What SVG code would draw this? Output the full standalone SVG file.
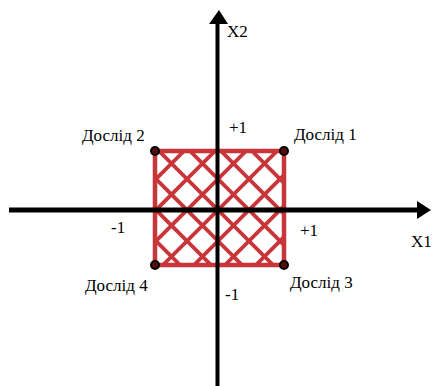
<svg xmlns="http://www.w3.org/2000/svg" width="433" height="386" viewBox="0 0 433 386">
<style>
.lbl{font-family:"Liberation Serif","Times New Roman",serif;font-size:17px;fill:#000}
.hatch{stroke:#c8363a;stroke-width:3.8;fill:none}
.axis{stroke:#000;fill:none}
.pt{fill:#5a0c0c;stroke:#000;stroke-width:2}
</style>
<defs>
<clipPath id="sq"><rect x="155" y="151" width="129" height="114"/></clipPath>
</defs>
<rect width="433" height="386" fill="#fff"/>
<g id="region">
<g clip-path="url(#sq)" class="hatch">
<line x1="204" y1="100" x2="-16" y2="320"/>
<line x1="235" y1="100" x2="15" y2="320"/>
<line x1="266" y1="100" x2="46" y2="320"/>
<line x1="297" y1="100" x2="77" y2="320"/>
<line x1="328" y1="100" x2="108" y2="320"/>
<line x1="359" y1="100" x2="139" y2="320"/>
<line x1="390" y1="100" x2="170" y2="320"/>
<line x1="421" y1="100" x2="201" y2="320"/>
<line x1="452" y1="100" x2="232" y2="320"/>
<line x1="-16" y1="100" x2="204" y2="320"/>
<line x1="15" y1="100" x2="235" y2="320"/>
<line x1="46" y1="100" x2="266" y2="320"/>
<line x1="77" y1="100" x2="297" y2="320"/>
<line x1="108" y1="100" x2="328" y2="320"/>
<line x1="139" y1="100" x2="359" y2="320"/>
<line x1="170" y1="100" x2="390" y2="320"/>
<line x1="201" y1="100" x2="421" y2="320"/>
<line x1="232" y1="100" x2="452" y2="320"/>
</g>
<rect x="155" y="151" width="129" height="114" fill="none" stroke="#c8363a" stroke-width="4.5"/>
</g>
<g id="axes">
<line class="axis" x1="9" y1="210" x2="420" y2="210" stroke-width="5"/>
<polygon points="417,201 431,210 417,219" fill="#000"/>
<line class="axis" x1="217.5" y1="22" x2="217.5" y2="386" stroke-width="4"/>
<polygon points="209,24 219,10 228,24" fill="#000"/>
<text class="lbl" x="227" y="37">X2</text>
<text class="lbl" x="411" y="247">X1</text>
<text class="lbl" x="229" y="133">+1</text>
<text class="lbl" x="300" y="236">+1</text>
<text class="lbl" x="111" y="233">-1</text>
<text class="lbl" x="225" y="300">-1</text>
</g>
<g id="p1"><circle class="pt" cx="284" cy="151" r="4"/><text class="lbl" x="294" y="140">Дослід 1</text></g>
<g id="p2"><circle class="pt" cx="155" cy="151" r="4"/><text class="lbl" x="82" y="141">Дослід 2</text></g>
<g id="p3"><circle class="pt" cx="284" cy="265" r="4"/><text class="lbl" x="290" y="288">Дослід 3</text></g>
<g id="p4"><circle class="pt" cx="155" cy="265" r="4"/><text class="lbl" x="85" y="291">Дослід 4</text></g>
</svg>
